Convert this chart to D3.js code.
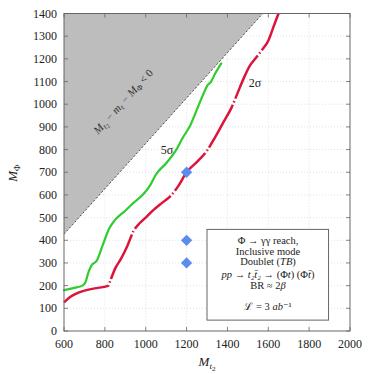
<!DOCTYPE html>
<html>
<head>
<meta charset="utf-8">
<script src="https://cdn.jsdelivr.net/npm/d3@7"></script>
<style>
  body { margin: 0; background: #fff; }
</style>
</head>
<body>
<svg id="chart" width="374" height="374"></svg>
<script>
// axis ticks
const xTicks = [600, 800, 1000, 1200, 1400, 1600, 1800, 2000];
const yTicks = [0, 100, 200, 300, 400, 500, 600, 700, 800, 900, 1000, 1100, 1200, 1300, 1400];

// 5 sigma reach (green)
const green5X = [600, 650, 690, 705, 720, 735, 760, 790, 820, 850, 900, 940, 990, 1020, 1050, 1100, 1150, 1180, 1220, 1250, 1280, 1300, 1320, 1340, 1370];
const green5Y = [180, 190, 200, 215, 260, 290, 310, 380, 450, 490, 530, 565, 605, 640, 690, 740, 800, 850, 910, 975, 1040, 1080, 1100, 1135, 1180];

// 2 sigma reach (red)
const red2X = [600, 630, 660, 700, 750, 815, 830, 850, 880, 910, 940, 970, 1000, 1040, 1080, 1125, 1160, 1200, 1250, 1300, 1340, 1380, 1420, 1450, 1480, 1510, 1540, 1570, 1600, 1625, 1650];
const red2Y = [126, 150, 165, 178, 188, 199, 230, 275, 320, 375, 440, 475, 500, 535, 565, 598, 640, 700, 745, 795, 855, 920, 985, 1050, 1115, 1170, 1205, 1240, 1280, 1340, 1400];

// benchmark points
const benchX = [1200, 1200, 1200];
const benchY = [700, 400, 300];

// kinematic boundary M_t2 - m_t - M_Phi = 0
const boundX = [600, 1573];
const boundY = [427, 1400];

// info box text, [text, italic] pieces per line
const legendLines = [
  [['Φ → γγ reach,', false]],
  [['Inclusive mode', false]],
  [['Doublet (', false], ['TB', true], [')', false]],
  [['pp', true], [' → ', false], ['t₂t̄₂', true], [' → (Φ', false], ['t', true], [') (Φ', false], ['t̄', true], [')', false]],
  [['BR ≈ 2', false], ['β', true]],
  [],
  [['ℒ = 3 ', false], ['ab', true], ['⁻¹', false]]
];

const font = "'Liberation Serif', 'DejaVu Serif', serif";
const svg = d3.select('#chart').attr('font-family', font);
const pl = 64, pr = 350, pt = 13.5, pb = 331;

const x = d3.scaleLinear().domain([600, 2000]).range([pl, pr]);
const y = d3.scaleLinear().domain([0, 1400]).range([pb, pt]);

// grid
const grid = svg.append('g')
    .attr('stroke', '#ccc')
    .attr('stroke-width', 0.6)
    .attr('stroke-dasharray', '1,2');
grid.selectAll('.gx').data(xTicks.slice(1, -1)).join('line')
    .attr('x1', d => x(d)).attr('x2', d => x(d))
    .attr('y1', pt).attr('y2', pb);
grid.selectAll('.gy').data(yTicks.slice(1, -1)).join('line')
    .attr('x1', pl).attr('x2', pr)
    .attr('y1', d => y(d)).attr('y2', d => y(d));

// excluded region
const regionPts = [[boundX[0], boundY[0]], [boundX[1], boundY[1]], [boundX[0], boundY[1]]];
svg.append('path')
    .attr('d', d3.line().x(d => x(d[0])).y(d => y(d[1]))(regionPts) + 'Z')
    .attr('fill', '#bdbdbd');
svg.append('line')
    .attr('x1', x(boundX[0])).attr('y1', y(boundY[0]))
    .attr('x2', x(boundX[1])).attr('y2', y(boundY[1]))
    .attr('stroke', '#222')
    .attr('stroke-width', 0.8)
    .attr('stroke-dasharray', '2,2');

const angle = -Math.atan2(y(boundY[0]) - y(boundY[1]), x(boundX[1]) - x(boundX[0])) * 180 / Math.PI;
const lab = svg.append('text')
    .attr('transform', `translate(126,104) rotate(${angle})`)
    .attr('text-anchor', 'middle')
    .attr('font-size', 11)
    .attr('fill', '#333')
    .attr('font-style', 'italic');
lab.append('tspan').text('M');
lab.append('tspan').text('t').attr('font-size', 8).attr('dy', 2);
lab.append('tspan').text('2').attr('font-size', 6).attr('dy', 1.5).attr('font-style', 'normal');
lab.append('tspan').text(' − m').attr('dy', -3.5);
lab.append('tspan').text('t').attr('font-size', 8).attr('dy', 2);
lab.append('tspan').text(' − M').attr('dy', -2);
lab.append('tspan').text('Φ').attr('font-size', 8).attr('dy', 2).attr('font-style', 'normal');
lab.append('tspan').text(' < 0').attr('dy', -2).attr('font-style', 'normal');

// curves
const line = d3.line().x(d => x(d[0])).y(d => y(d[1])).curve(d3.curveMonotoneX);

svg.append('path')
    .attr('d', line(green5X.map((v, i) => [v, green5Y[i]])))
    .attr('fill', 'none')
    .attr('stroke', '#2ecc2e')
    .attr('stroke-width', 2.2)
    .attr('stroke-linecap', 'round');

svg.append('path')
    .attr('d', line(red2X.map((v, i) => [v, red2Y[i]])))
    .attr('fill', 'none')
    .attr('stroke', '#dc143c')
    .attr('stroke-width', 2.5)
    .attr('stroke-dasharray', '49,2.5,1.5,2.5');

// benchmark diamonds
svg.selectAll('.bench').data(benchX).join('path')
    .attr('d', d3.symbol(d3.symbolSquare, 64))
    .attr('transform', (d, i) => `translate(${x(d)},${y(benchY[i])}) rotate(45)`)
    .attr('fill', '#5b8def');

// curve labels
svg.append('text').attr('x', 167).attr('y', 154).attr('text-anchor', 'middle')
    .attr('font-size', 12).attr('fill', '#222').text('5σ');
svg.append('text').attr('x', 255).attr('y', 87).attr('text-anchor', 'middle')
    .attr('font-size', 12).attr('fill', '#222').text('2σ');

// frame and ticks
svg.append('rect')
    .attr('x', pl).attr('y', pt)
    .attr('width', pr - pl).attr('height', pb - pt)
    .attr('fill', 'none').attr('stroke', '#666').attr('stroke-width', 1);

const ticks = svg.append('g').attr('stroke', '#666').attr('stroke-width', 0.8);
xTicks.forEach(t => {
  ticks.append('line').attr('x1', x(t)).attr('x2', x(t)).attr('y1', pb).attr('y2', pb - 4);
  ticks.append('line').attr('x1', x(t)).attr('x2', x(t)).attr('y1', pt).attr('y2', pt + 4);
});
yTicks.forEach(t => {
  ticks.append('line').attr('x1', pl).attr('x2', pl + 4).attr('y1', y(t)).attr('y2', y(t));
  ticks.append('line').attr('x1', pr).attr('x2', pr - 4).attr('y1', y(t)).attr('y2', y(t));
});

svg.append('g').selectAll('text').data(xTicks).join('text')
    .attr('x', d => x(d)).attr('y', pb + 17)
    .attr('text-anchor', 'middle').attr('font-size', 12).attr('fill', '#222')
    .text(d => d);
svg.append('g').selectAll('text').data(yTicks).join('text')
    .attr('x', pl - 7).attr('y', d => y(d) + 4)
    .attr('text-anchor', 'end').attr('font-size', 12).attr('fill', '#222')
    .text(d => d);

// axis titles
const xt = svg.append('text').attr('x', 207).attr('y', 366)
    .attr('text-anchor', 'middle').attr('font-size', 13).attr('fill', '#222').attr('font-style', 'italic');
xt.append('tspan').text('M');
xt.append('tspan').text('t').attr('font-size', 9).attr('dy', 3);
xt.append('tspan').text('2').attr('font-size', 7).attr('dy', 2).attr('font-style', 'normal');

const yt = svg.append('text').attr('transform', 'translate(17,173) rotate(-90)')
    .attr('text-anchor', 'middle').attr('font-size', 13).attr('fill', '#222').attr('font-style', 'italic');
yt.append('tspan').text('M');
yt.append('tspan').text('Φ').attr('font-size', 9).attr('dy', 3).attr('font-style', 'normal');

// info box
svg.append('rect')
    .attr('x', x(1300)).attr('y', y(448))
    .attr('width', x(1895) - x(1300)).attr('height', y(48) - y(448))
    .attr('fill', '#fff').attr('stroke', '#666').attr('stroke-width', 1);

const lineY = [244, 255, 265, 278, 289, 299, 310];
const info = svg.append('g').selectAll('text').data(legendLines).join('text')
    .attr('x', 268).attr('y', (d, i) => lineY[i])
    .attr('text-anchor', 'middle').attr('font-size', 10.5).attr('fill', '#222');
info.selectAll('tspan').data(d => d).join('tspan')
    .attr('font-style', d => (d[1] ? 'italic' : 'normal'))
    .text(d => d[0]);
</script>
</body>
</html>
